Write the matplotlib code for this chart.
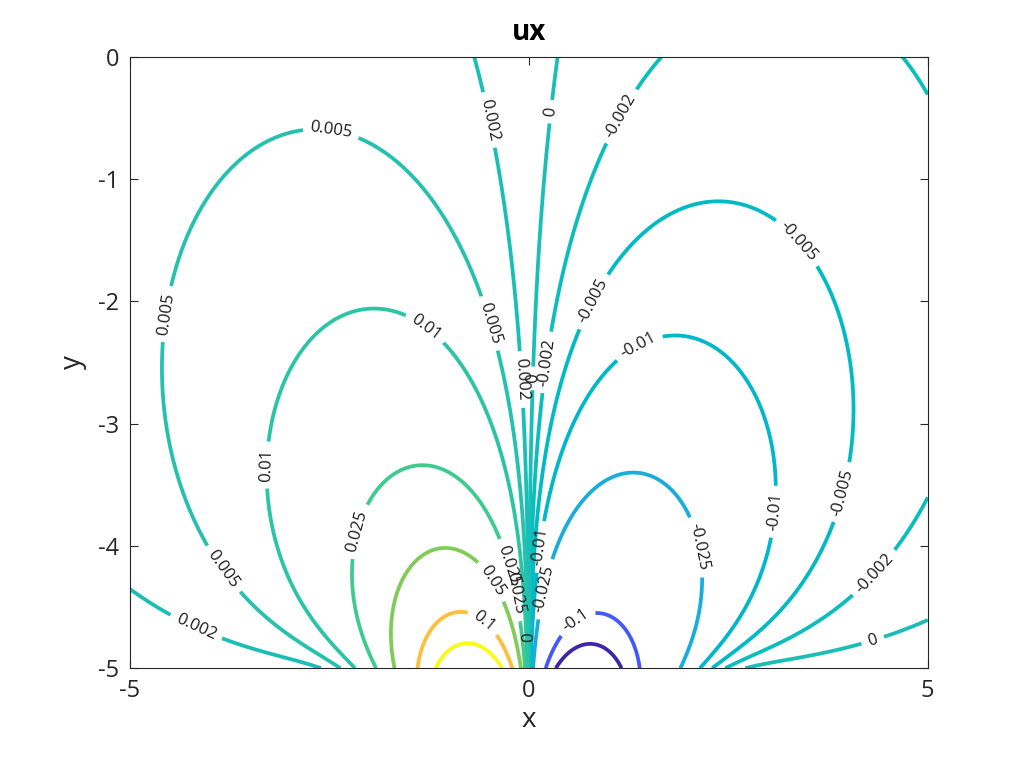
import numpy as np
import matplotlib
matplotlib.use("Agg")
import matplotlib.pyplot as plt
from matplotlib.colors import ListedColormap, Normalize

# contour levels shown in the chart
levels = [-0.15, -0.1, -0.025, -0.01, -0.005, -0.002, 0,
          0.002, 0.005, 0.01, 0.025, 0.05, 0.1, 0.15]

# ux on the bottom edge (y = -5): bottom_amp * x * exp(-bottom_decay * x^2)
bottom_amp = -0.5
bottom_decay = 1.0
# small offset and tilt of the field
offset = 0.0007
tilt = 0.00006

x_lim = (-5, 5)
y_lim = (-5, 0)
x_ticks = [-5, 0, 5]
y_ticks = [-5, -4, -3, -2, -1, 0]

# where the inline labels sit (data coords)
label_pos = [(-0.53, -0.52), (0.29, -0.45), (1.17, -0.49), (-2.49, -0.66),
             (-0.49, -2.18), (-1.30, -2.22), (0.83, -2.01), (1.37, -2.36),
             (-0.11, -2.64), (0.05, -2.63), (0.24, -2.5), (3.33, -1.54),
             (-4.47, -2.11), (-3.22, -3.34), (-2.09, -3.89), (-3.81, -4.18),
             (-4.17, -4.66), (-0.49, -4.30), (-0.58, -4.63), (0.61, -4.63),
             (2.11, -4.01), (3.06, -3.72), (3.92, -3.56), (4.31, -4.21),
             (4.31, -4.77), (-0.18, -4.39), (-0.24, -4.17), (0.16, -4.01),
             (0.24, -4.36), (0.0, -4.75)]

parula = ListedColormap([
    [0.2422, 0.1504, 0.6603], [0.2504, 0.1650, 0.7076], [0.2578, 0.1818, 0.7511],
    [0.2647, 0.1978, 0.7952], [0.2706, 0.2147, 0.8364], [0.2751, 0.2342, 0.8710],
    [0.2783, 0.2559, 0.8991], [0.2803, 0.2782, 0.9221], [0.2813, 0.3006, 0.9414],
    [0.2810, 0.3228, 0.9579], [0.2795, 0.3447, 0.9717], [0.2760, 0.3667, 0.9829],
    [0.2699, 0.3892, 0.9906], [0.2602, 0.4123, 0.9952], [0.2440, 0.4358, 0.9988],
    [0.2206, 0.4603, 0.9973], [0.1963, 0.4847, 0.9892], [0.1834, 0.5074, 0.9798],
    [0.1786, 0.5289, 0.9682], [0.1764, 0.5499, 0.9520], [0.1687, 0.5703, 0.9359],
    [0.1540, 0.5902, 0.9218], [0.1460, 0.6091, 0.9079], [0.1380, 0.6276, 0.8973],
    [0.1248, 0.6459, 0.8883], [0.1113, 0.6635, 0.8763], [0.0952, 0.6798, 0.8598],
    [0.0689, 0.6948, 0.8394], [0.0297, 0.7082, 0.8163], [0.0036, 0.7203, 0.7917],
    [0.0067, 0.7312, 0.7660], [0.0433, 0.7411, 0.7394], [0.0964, 0.7500, 0.7120],
    [0.1408, 0.7584, 0.6842], [0.1717, 0.7670, 0.6554], [0.1938, 0.7758, 0.6251],
    [0.2161, 0.7843, 0.5923], [0.2470, 0.7918, 0.5567], [0.2906, 0.7973, 0.5188],
    [0.3406, 0.8008, 0.4789], [0.3909, 0.8029, 0.4354], [0.4456, 0.8024, 0.3909],
    [0.5044, 0.7993, 0.3480], [0.5616, 0.7942, 0.3045], [0.6174, 0.7876, 0.2612],
    [0.6720, 0.7793, 0.2227], [0.7242, 0.7698, 0.1910], [0.7738, 0.7598, 0.1646],
    [0.8203, 0.7498, 0.1535], [0.8634, 0.7406, 0.1596], [0.9035, 0.7330, 0.1774],
    [0.9393, 0.7288, 0.2100], [0.9728, 0.7298, 0.2394], [0.9956, 0.7434, 0.2371],
    [0.9970, 0.7659, 0.2199], [0.9952, 0.7893, 0.2028], [0.9892, 0.8136, 0.1885],
    [0.9786, 0.8386, 0.1766], [0.9676, 0.8639, 0.1643], [0.9610, 0.8890, 0.1537],
    [0.9597, 0.9135, 0.1423], [0.9628, 0.9373, 0.1265], [0.9691, 0.9606, 0.1064],
    [0.9769, 0.9839, 0.0805]], name="parula")


def harmonic_field():
    # bottom profile carried upward as a harmonic field (done with an fft)
    L = 80.0
    N = 8192
    xs = -L / 2 + np.arange(N) * (L / N)
    bottom = bottom_amp * xs * np.exp(-bottom_decay * xs ** 2)
    spec = np.fft.fft(bottom)
    k = 2 * np.pi * np.fft.fftfreq(N, d=L / N)
    ys = np.linspace(y_lim[0], y_lim[1], 301)
    h = ys - y_lim[0]
    rows = np.real(np.fft.ifft(spec[None, :] * np.exp(-np.abs(k)[None, :] * h[:, None]), axis=1))
    keep = (xs >= x_lim[0] - 1e-9) & (xs <= x_lim[1] + 1e-9)
    xk = xs[keep]
    ux = rows[:, keep] + offset + tilt * xk[None, :]
    return xk, ys, ux


plt.rcParams['font.family'] = ['Open Sans', 'DejaVu Sans']
plt.rcParams['axes.unicode_minus'] = False

xg, yg, ux = harmonic_field()
X, Y = np.meshgrid(xg, yg)

fig = plt.figure(figsize=(10.24, 7.68), dpi=100)
ax = fig.add_axes([0.127, 0.130, 0.779, 0.796])
cs = ax.contour(X, Y, ux, levels=levels, cmap=parula,
                norm=Normalize(vmin=levels[0], vmax=levels[-1]), linewidths=2.7)
ax.clabel(cs, manual=label_pos, inline=True, inline_spacing=7,
          fontsize=12, fmt='%g', colors='#1a1a1a')

ax.set_xlim(*x_lim)
ax.set_ylim(*y_lim)
ax.set_xticks(x_ticks)
ax.set_yticks(y_ticks)
ax.tick_params(direction='in', top=True, right=True, length=6, width=0.8,
               labelsize=17, colors='#262626', pad=8)
for s in ax.spines.values():
    s.set_color('#262626')
    s.set_linewidth(0.8)
ax.set_title('ux', fontsize=20, fontweight='bold', pad=12)
ax.set_xlabel('x', fontsize=20, color='#262626', labelpad=2)
ax.set_ylabel('y', fontsize=20, color='#262626', labelpad=8)

fig.savefig('out.png', dpi=100, facecolor='white')
